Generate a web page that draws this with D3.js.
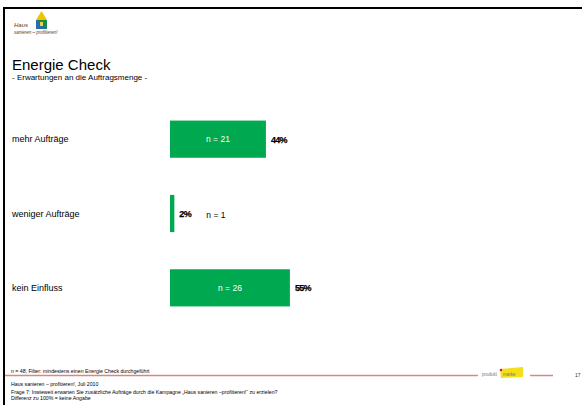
<!DOCTYPE html>
<html><head><meta charset="utf-8">
<script src="https://cdn.jsdelivr.net/npm/d3@7/dist/d3.min.js"></script>
<style>body{margin:0;background:#fff}svg{display:block;font-family:"Liberation Sans",Arial,sans-serif}</style>
</head><body><svg id="c" width="582" height="405"></svg>
<script>
const categories = ["mehr Aufträge", "weniger Aufträge", "kein Einfluss"];
const percents = [44, 2, 55];
const counts = [21, 1, 26];
const xTicks = [0, 100];

const svg = d3.select("#c");
// frame (left + top only visible)
svg.append("rect").attr("x",4).attr("y",8).attr("width",640).attr("height",440).attr("fill","none").attr("stroke","#000").attr("stroke-width",2);

// logo
const lg = svg.append("g");
lg.append("polygon").attr("points","36,20 41.5,11 47,20").attr("fill","#f2c200");
lg.append("rect").attr("x",36).attr("y",20).attr("width",11).attr("height",9).attr("fill","#1a8a4a");
lg.append("polygon").attr("points","36,20 47,29 36,29").attr("fill","#2a6cb0");
lg.append("rect").attr("x",40).attr("y",22).attr("width",3).attr("height",4).attr("fill","#e8d24a");
lg.append("text").attr("x",14).attr("y",27).attr("font-size",6).attr("fill","#5a3a1a").attr("font-style","italic").text("Haus");
lg.append("text").attr("x",14).attr("y",34).attr("font-size",4.5).attr("fill","#5a3a1a").attr("font-style","italic").text("sanieren – profitieren!");

svg.append("text").attr("x",12).attr("y",70).attr("font-size",15).text("Energie Check");
svg.append("text").attr("x",12).attr("y",80).attr("font-size",8).text("- Erwartungen an die Auftragsmenge -");

const x = d3.scaleLinear().domain(xTicks).range([170, 388]);
const y = d3.scaleBand().domain(categories).range([102, 325]).paddingInner(0.5).paddingOuter(0.25);

categories.forEach((c, i) => {
  const yc = y(c) + y.bandwidth()/2;
  svg.append("text").attr("x",12).attr("y",yc+3).attr("font-size",9).text(c);
  svg.append("rect").attr("x",x(0)).attr("y",y(c)).attr("width",x(percents[i])-x(0)).attr("height",y.bandwidth()).attr("fill","#00a84f");
  svg.append("text").attr("x",x(percents[i])+5).attr("y",yc+3.5).attr("font-size",9).attr("font-weight","bold").attr("letter-spacing",-0.7).attr("stroke","#000").attr("stroke-width",0.25).text(percents[i]+"%");
  const w = x(percents[i]) - x(0);
  if (w > 40) {
    svg.append("text").attr("x",x(0)+w/2).attr("y",yc+3).attr("text-anchor","middle").attr("font-size",8.5).attr("fill","#fff").text("n = "+counts[i]);
  } else {
    svg.append("text").attr("x",x(percents[i])+32).attr("y",yc+4).attr("font-size",8.5).attr("fill","#000").text("n = "+counts[i]);
  }
});

// footer
svg.append("line").attr("x1",5).attr("x2",478).attr("y1",375.5).attr("y2",375.5).attr("stroke","#d9868a").attr("stroke-width",1.5);
svg.append("line").attr("x1",530).attr("x2",553).attr("y1",375.5).attr("y2",375.5).attr("stroke","#d9868a").attr("stroke-width",1.5);
svg.append("polygon").attr("points","500,369 523,367 523,377 501,378").attr("fill","#f4e01a");
svg.append("circle").attr("cx",501).attr("cy",370).attr("r",1.3).attr("fill","#d0202a");
svg.append("text").attr("x",482).attr("y",376).attr("font-size",4.5).attr("fill","#777").text("produkt");
svg.append("text").attr("x",503).attr("y",376).attr("font-size",4.5).attr("fill","#777").text("marke");
svg.append("text").attr("x",575).attr("y",377).attr("font-size",5).attr("fill","#333").text("17");

svg.append("text").attr("x",11).attr("y",373).attr("font-size",5.2).text("n = 48; Filter: mindestens einen Energie Check durchgeführt");
svg.append("text").attr("x",11).attr("y",386).attr("font-size",5.2).text("Haus sanieren – profitieren!, Juli 2010");
svg.append("text").attr("x",11).attr("y",394).attr("font-size",5.2).text("Frage 7: Inwieweit erwarten Sie zusätzliche Aufträge durch die Kampagne „Haus sanieren –profitieren!“ zu erzielen?");
svg.append("text").attr("x",11).attr("y",400).attr("font-size",5.2).text("Differenz zu 100% = keine Angabe");
</script></body></html>
